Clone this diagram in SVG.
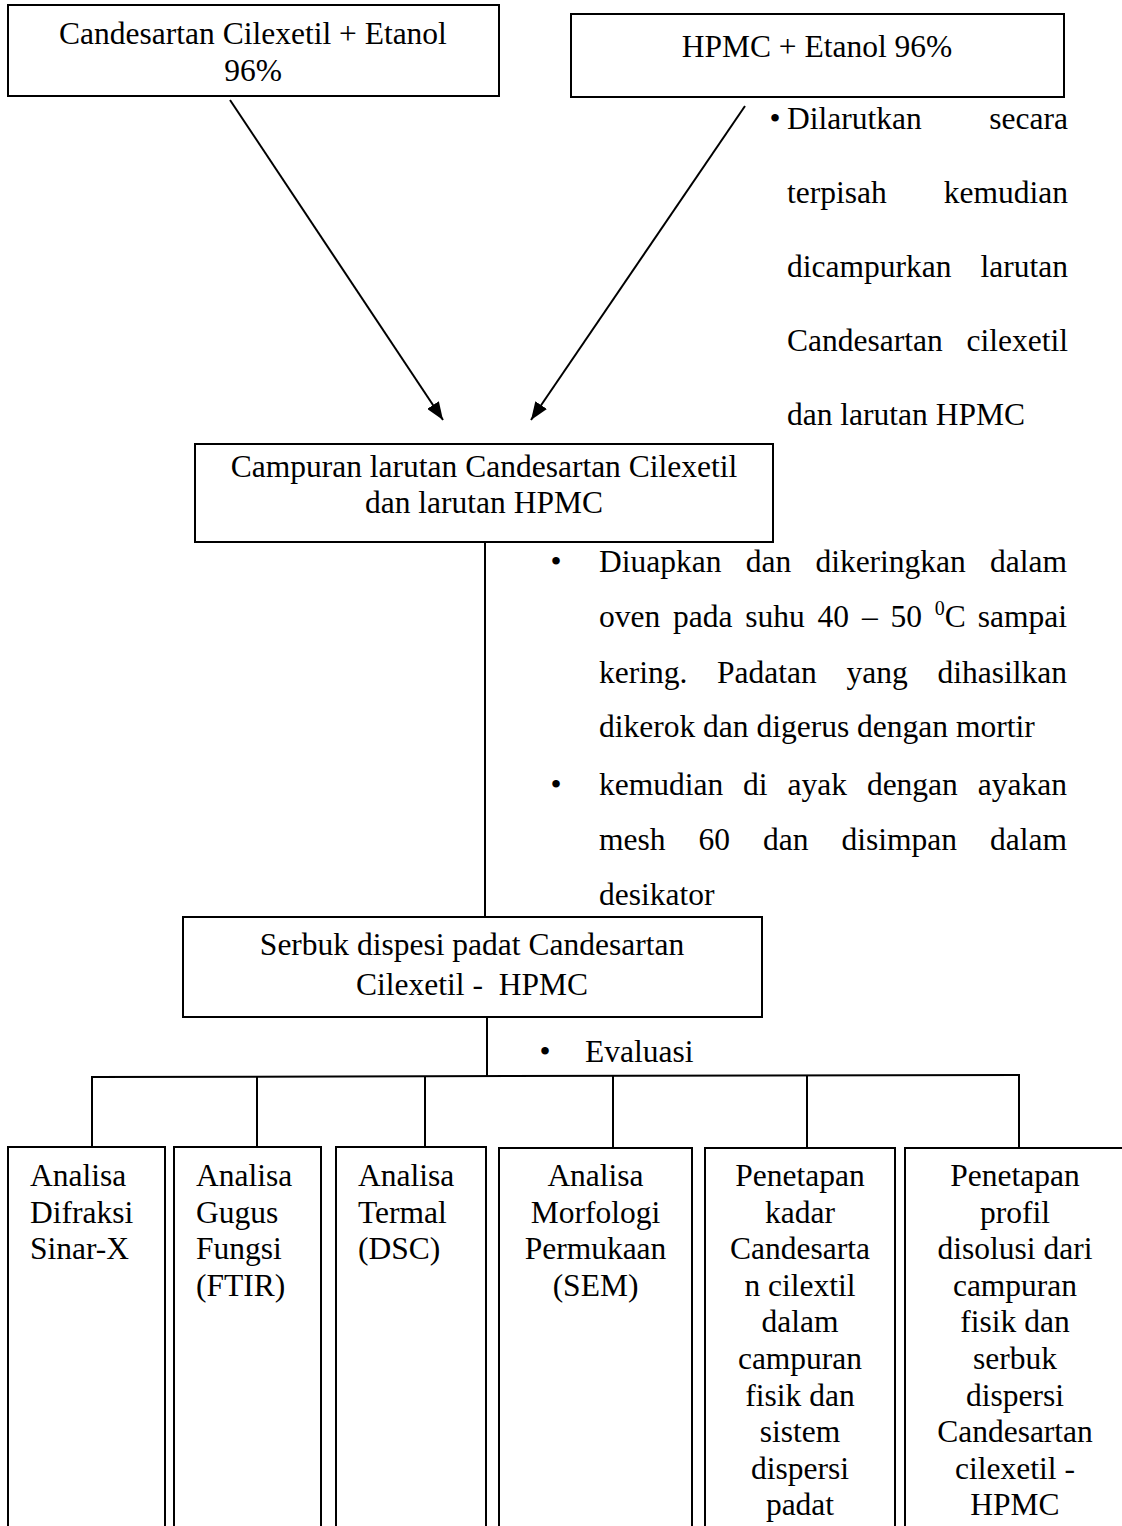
<svg xmlns="http://www.w3.org/2000/svg" width="1122" height="1526" viewBox="0 0 1122 1526">
<style>
text{font-family:"Liberation Serif","Times New Roman",serif;font-size:31.5px;fill:#000}
.box{fill:#fff;stroke:#000;stroke-width:2}
.ln{fill:none;stroke:#000;stroke-width:2}
.c{text-anchor:middle}
.e{text-anchor:end}
</style>
<defs>
<marker id="ah" viewBox="0 0 18 14" refX="18" refY="7" markerWidth="18" markerHeight="14" markerUnits="userSpaceOnUse" orient="auto">
<path d="M0,0 L18,7 L0,14 z" fill="#000"/>
</marker>
</defs>
<rect width="1122" height="1526" fill="#fff"/>

<g id="connectors">
<line class="ln" x1="230" y1="100" x2="443" y2="420" marker-end="url(#ah)"/>
<line class="ln" x1="745" y1="106" x2="531" y2="420" marker-end="url(#ah)"/>
<line class="ln" x1="485" y1="542" x2="485" y2="917"/>
<line class="ln" x1="487" y1="1017" x2="487" y2="1077"/>
<polyline class="ln" points="92,1147 92,1077 1019,1075 1019,1150"/>
<line class="ln" x1="257" y1="1077" x2="257" y2="1147"/>
<line class="ln" x1="425" y1="1076" x2="425" y2="1147"/>
<line class="ln" x1="613" y1="1076" x2="613" y2="1148"/>
<line class="ln" x1="807" y1="1076" x2="807" y2="1148"/>
</g>

<g id="node-candesartan">
<rect class="box" x="8" y="5" width="491" height="91"/>
<text class="c" x="253" y="44">Candesartan Cilexetil + Etanol</text>
<text class="c" x="253" y="81">96%</text>
</g>

<g id="node-hpmc">
<rect class="box" x="571" y="14" width="493" height="83"/>
<text class="c" x="817" y="57">HPMC + Etanol 96%</text>
</g>

<g id="note-dilarutkan">
<text class="c" x="775" y="129">•</text>
<text x="787" y="129">Dilarutkan</text><text class="e" x="1068" y="129">secara</text>
<text x="787" y="203">terpisah</text><text class="e" x="1068" y="203">kemudian</text>
<text x="787" y="277">dicampurkan</text><text class="e" x="1068" y="277">larutan</text>
<text x="787" y="351">Candesartan</text><text class="e" x="1068" y="351">cilexetil</text>
<text x="787" y="425">dan larutan HPMC</text>
</g>

<g id="node-campuran">
<rect class="box" x="195" y="444" width="578" height="98"/>
<text class="c" x="484" y="477">Campuran larutan Candesartan Cilexetil</text>
<text class="c" x="484" y="513">dan larutan HPMC</text>
</g>

<g id="note-diuapkan">
<text class="c" x="556" y="572">•</text>
<text x="599" y="572">Diuapkan</text><text x="745.7" y="572">dan</text><text x="815.4" y="572">dikeringkan</text><text class="e" x="1067" y="572">dalam</text>
<text x="599" y="627">oven</text><text x="673" y="627">pada</text><text x="745.3" y="627">suhu</text><text x="817.6" y="627">40</text><text x="861.9" y="627">–</text><text x="890.5" y="627">50</text><text x="934.8" y="627"><tspan style="font-size:20px" dy="-12">0</tspan><tspan dy="12">C</tspan></text><text class="e" x="1067" y="627">sampai</text>
<text x="599" y="683">kering.</text><text x="717.1" y="683">Padatan</text><text x="846.5" y="683">yang</text><text class="e" x="1067" y="683">dihasilkan</text>
<text x="599" y="737">dikerok dan digerus dengan mortir</text>
<text class="c" x="556" y="795">•</text>
<text x="599" y="795">kemudian</text><text x="743.1" y="795">di</text><text x="787.5" y="795">ayak</text><text x="866.9" y="795">dengan</text><text class="e" x="1067" y="795">ayakan</text>
<text x="599" y="850">mesh</text><text x="698.5" y="850">60</text><text x="763" y="850">dan</text><text x="841.5" y="850">disimpan</text><text class="e" x="1067" y="850">dalam</text>
<text x="599" y="905">desikator</text>
</g>

<g id="node-serbuk">
<rect class="box" x="183" y="917" width="579" height="100"/>
<text class="c" x="472" y="955">Serbuk dispesi padat Candesartan</text>
<text class="c" x="472" y="995" xml:space="preserve">Cilexetil -  HPMC</text>
</g>

<g id="note-evaluasi">
<text class="c" x="545" y="1062">•</text>
<text x="585" y="1062">Evaluasi</text>
</g>

<g id="node-xrd">
<rect class="box" x="8" y="1147" width="157" height="390"/>
<text x="30" y="1186">Analisa</text>
<text x="30" y="1222.6">Difraksi</text>
<text x="30" y="1259.2">Sinar-X</text>
</g>

<g id="node-ftir">
<rect class="box" x="174" y="1147" width="147" height="390"/>
<text x="196" y="1186">Analisa</text>
<text x="196" y="1222.6">Gugus</text>
<text x="196" y="1259.2">Fungsi</text>
<text x="196" y="1295.8">(FTIR)</text>
</g>

<g id="node-dsc">
<rect class="box" x="336" y="1147" width="150" height="390"/>
<text x="358" y="1186">Analisa</text>
<text x="358" y="1222.6">Termal</text>
<text x="358" y="1259.2">(DSC)</text>
</g>

<g id="node-sem">
<rect class="box" x="499" y="1148" width="193" height="390"/>
<text class="c" x="595.5" y="1186">Analisa</text>
<text class="c" x="595.5" y="1222.6">Morfologi</text>
<text class="c" x="595.5" y="1259.2">Permukaan</text>
<text class="c" x="595.5" y="1295.8">(SEM)</text>
</g>

<g id="node-kadar">
<rect class="box" x="705" y="1148" width="190" height="390"/>
<text class="c" x="800" y="1186">Penetapan</text>
<text class="c" x="800" y="1222.6">kadar</text>
<text class="c" x="800" y="1259.2">Candesarta</text>
<text class="c" x="800" y="1295.8">n cilextil</text>
<text class="c" x="800" y="1332.4">dalam</text>
<text class="c" x="800" y="1369">campuran</text>
<text class="c" x="800" y="1405.6">fisik dan</text>
<text class="c" x="800" y="1442.2">sistem</text>
<text class="c" x="800" y="1478.8">dispersi</text>
<text class="c" x="800" y="1515.4">padat</text>
</g>

<g id="node-disolusi">
<rect class="box" x="905" y="1148" width="225" height="390"/>
<text class="c" x="1015" y="1186">Penetapan</text>
<text class="c" x="1015" y="1222.6">profil</text>
<text class="c" x="1015" y="1259.2">disolusi dari</text>
<text class="c" x="1015" y="1295.8">campuran</text>
<text class="c" x="1015" y="1332.4">fisik dan</text>
<text class="c" x="1015" y="1369">serbuk</text>
<text class="c" x="1015" y="1405.6">dispersi</text>
<text class="c" x="1015" y="1442.2">Candesartan</text>
<text class="c" x="1015" y="1478.8">cilexetil -</text>
<text class="c" x="1015" y="1515.4">HPMC</text>
</g>
</svg>
